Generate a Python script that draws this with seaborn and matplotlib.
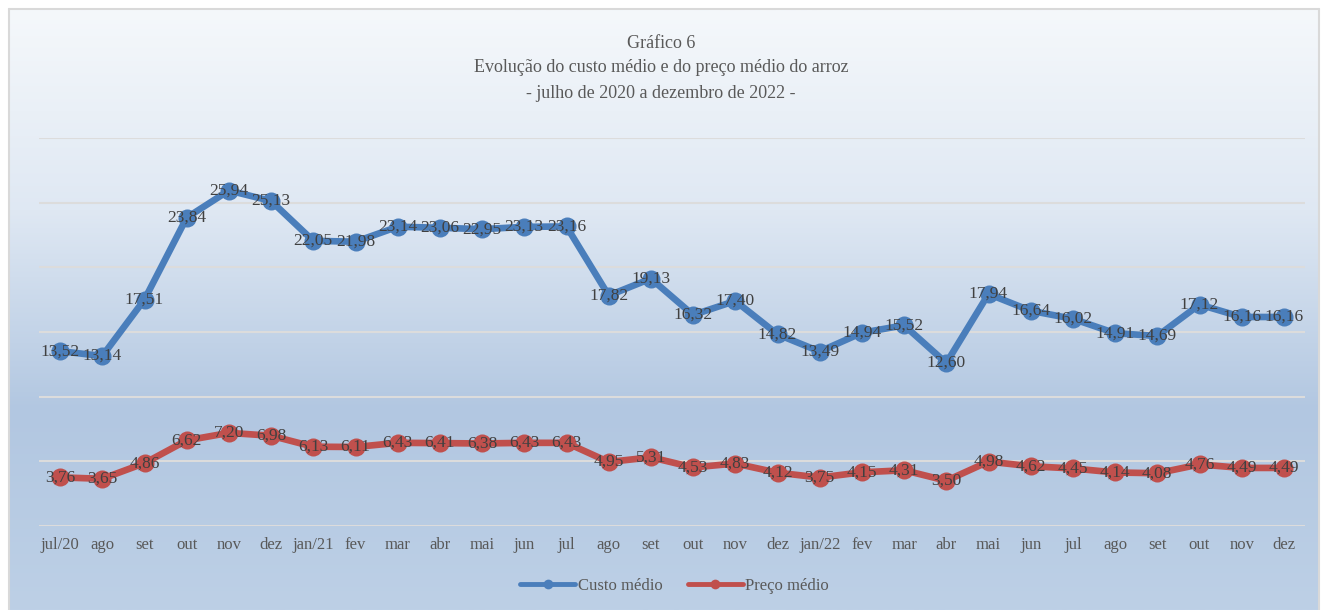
import pandas as pd
import matplotlib.pyplot as plt
import seaborn as sns
import numpy as np
from matplotlib.colors import LinearSegmentedColormap

# dados
meses = ['jul/20', 'ago', 'set', 'out', 'nov', 'dez', 'jan/21', 'fev', 'mar', 'abr',
         'mai', 'jun', 'jul', 'ago', 'set', 'out', 'nov', 'dez', 'jan/22', 'fev',
         'mar', 'abr', 'mai', 'jun', 'jul', 'ago', 'set', 'out', 'nov', 'dez']
custo_medio = [13.52, 13.14, 17.51, 23.84, 25.94, 25.13, 22.05, 21.98, 23.14, 23.06,
               22.95, 23.13, 23.16, 17.82, 19.13, 16.32, 17.40, 14.82, 13.49, 14.94,
               15.52, 12.60, 17.94, 16.64, 16.02, 14.91, 14.69, 17.12, 16.16, 16.16]
preco_medio = [3.76, 3.65, 4.86, 6.62, 7.20, 6.98, 6.13, 6.11, 6.43, 6.41,
               6.38, 6.43, 6.43, 4.95, 5.31, 4.53, 4.83, 4.12, 3.75, 4.15,
               4.31, 3.50, 4.98, 4.62, 4.45, 4.14, 4.08, 4.76, 4.49, 4.49]

df = pd.DataFrame({
    'pos': list(range(len(meses))) * 2,
    'valor': custo_medio + preco_medio,
    'serie': ['Custo médio'] * len(meses) + ['Preço médio'] * len(meses),
})

sns.set_theme(style="white")
plt.rcParams['font.family'] = ['Liberation Serif', 'DejaVu Serif']

fig = plt.figure(figsize=(13.22, 6.10), dpi=100)

# fundo em degradê (branco -> azul claro)
bg = fig.add_axes([10 / 1322, 0, 1 - 14 / 1322, 1 - 10 / 610], zorder=-10)
grad = np.linspace(0, 1, 256).reshape(-1, 1)
cmap_bg = LinearSegmentedColormap.from_list('bg', ['#f5f8fb', '#dfe8f3', '#b2c7e1', '#bdd0e6'])
bg.imshow(grad, aspect='auto', cmap=cmap_bg, extent=[0, 1, 0, 1])
bg.set_axis_off()
fig.add_artist(plt.Line2D([9 / 1322, 1 - 3 / 1322], [1 - 9 / 610, 1 - 9 / 610], color='#d9d9d9', lw=1.5))
fig.add_artist(plt.Line2D([9 / 1322, 9 / 1322], [0, 1 - 9 / 610], color='#d9d9d9', lw=1.5))
fig.add_artist(plt.Line2D([1 - 3 / 1322, 1 - 3 / 1322], [0, 1 - 9 / 610], color='#d9d9d9', lw=1.5))

ax = fig.add_axes([39 / 1322, 84 / 610, 1266 / 1322, 388 / 610])
ax.patch.set_alpha(0)

cores = {'Custo médio': '#4a7ebb', 'Preço médio': '#c0504d'}
sns.lineplot(data=df, x='pos', y='valor', hue='serie', palette=cores, marker='o',
             markersize=13, markeredgewidth=0, linewidth=4.8, ax=ax, legend=True)

for serie in [custo_medio, preco_medio]:
    for i, v in enumerate(serie):
        ax.text(i, v, f'{v:.2f}'.replace('.', ','), ha='center', va='center',
                fontsize=12.5, color='#404040', zorder=5)

ax.set_xlim(-0.5, len(meses) - 0.5)
ax.set_ylim(0, 30)
ax.set_yticks(np.arange(0, 31, 5))
ax.set_yticklabels([])
ax.tick_params(axis='y', length=0)
ax.grid(axis='y', color='#dcdcdc', linewidth=1.5)
ax.set_axisbelow(True)
ax.set_xticks(range(len(meses)))
ax.set_xticklabels(meses, fontsize=12, color='#595959')
ax.tick_params(axis='x', length=0, pad=8)
ax.set_xlabel('')
ax.set_ylabel('')
for s in ax.spines.values():
    s.set_visible(False)

leg = ax.legend(loc='upper center', bbox_to_anchor=(0.502, -0.095), ncol=2, frameon=False,
                fontsize=12, labelcolor='#595959', handlelength=3.3, columnspacing=1.5,
                handletextpad=0.15)
for h in leg.get_lines():
    h.set_linewidth(3.5)
    h.set_markersize(7)

fig.text(0.5, 1 - 43 / 610, 'Gráfico 6', ha='center', va='center', fontsize=13, color='#595959')
fig.text(0.5, 1 - 68 / 610, 'Evolução do custo médio e do preço médio do arroz',
         ha='center', va='center', fontsize=13, color='#595959')
fig.text(0.5, 1 - 93 / 610, '- julho de 2020 a dezembro de 2022 -',
         ha='center', va='center', fontsize=13, color='#595959')

plt.savefig('out.png', dpi=100)
